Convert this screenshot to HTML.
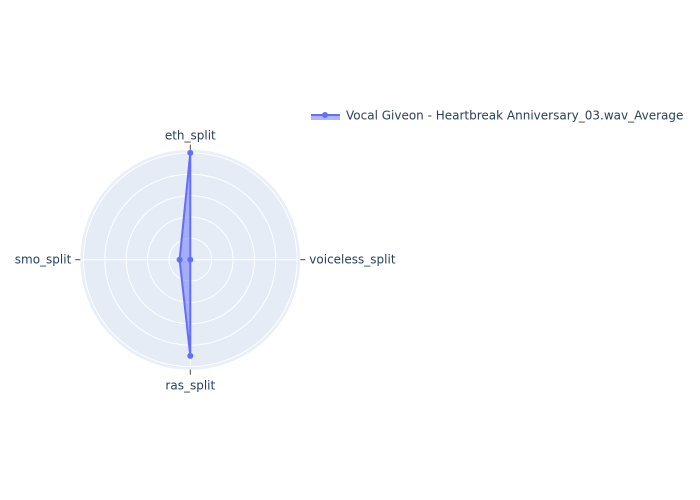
<!DOCTYPE html>
<html><head><meta charset="utf-8"><style>
body{margin:0;background:#fff}
svg{display:block;font-family:"DejaVu Sans","Liberation Sans",sans-serif}
</style></head><body>
<svg id="chart" width="700" height="500">
<rect width="700" height="500" fill="#fff"/>
<g id="polar"></g>
<g id="legend">
  <rect x="311" y="115" width="29" height="5" fill="rgba(99,110,250,0.5)"/>
  <line x1="311" y1="115" x2="340" y2="115" stroke="#636efa" stroke-width="2"/>
  <circle cx="325" cy="115" r="3" fill="#636efa"/>
  <text x="346" y="119.5" font-size="12" fill="#2a3f5f">Vocal Giveon - Heartbreak Anniversary_03.wav_Average</text>
</g>
</svg>
<script>
const categories = ["voiceless_split","eth_split","smo_split","ras_split"];
const values = [0, 5.0, 0.5, 4.5];
const gridTicks = [1, 2, 3, 4, 5];
const rangeMax = 5.1;

const cx = 190.3, cy = 259.7, R = 109;
const NS = "http://www.w3.org/2000/svg";
const g = document.getElementById('polar');
function mk(tag, attrs, parent){const e=document.createElementNS(NS,tag);for(const k in attrs)e.setAttribute(k,attrs[k]);(parent||g).appendChild(e);return e;}
function rScale(v){return v/rangeMax*R;}
function ang(i){return i*2*Math.PI/categories.length;}
function pt(i,v){const a=ang(i),r=rScale(v);return [cx+r*Math.cos(a), cy-r*Math.sin(a)];}

const bg = mk('circle',{cx:cx,cy:cy,r:R,fill:'#e5ecf6',stroke:'#ebf0f8','stroke-width':2});


gridTicks.forEach(t=>{
  const c = mk('circle',{cx:cx,cy:cy,r:rScale(t),fill:'none',stroke:'#fff','stroke-width':1});
  
  
});
categories.forEach((c,i)=>{
  const a=ang(i);
  const l = mk('line',{x1:cx,y1:cy,x2:cx+R*Math.cos(a),y2:cy-R*Math.sin(a),stroke:'#fff','stroke-width':1});
  
  
  const tk = mk('line',{x1:cx+(R+1)*Math.cos(a),y1:cy-(R+1)*Math.sin(a),x2:cx+(R+6)*Math.cos(a),y2:cy-(R+6)*Math.sin(a),stroke:'#444','stroke-width':1});
  
  
  const lx=cx+(R+10)*Math.cos(a), ly=cy-(R+10)*Math.sin(a);
  let anchor='middle', dy=4;
  if(Math.cos(a)>0.5)anchor='start'; else if(Math.cos(a)<-0.5)anchor='end';
  if(Math.sin(a)>0.5)dy=-1; else if(Math.sin(a)<-0.5)dy=11;
  const t = mk('text',{x:lx,y:ly+dy,'text-anchor':anchor,'font-size':12,fill:'#2a3f5f'});
  t.textContent=c;
  
  
});
const pts = values.map((v,i)=>pt(i,v));
const d = pts.map((p,i)=>(i?'L':'M')+p[0].toFixed(2)+','+p[1].toFixed(2)).join('')+'Z';
const area = mk('path',{d:d,fill:'rgba(99,110,250,0.5)',stroke:'#636efa','stroke-width':2,'stroke-linejoin':'round'});


pts.forEach((p,i)=>{
  const c = mk('circle',{cx:p[0],cy:p[1],r:3,fill:'#636efa'});
  
  
});
</script>
</body></html>
